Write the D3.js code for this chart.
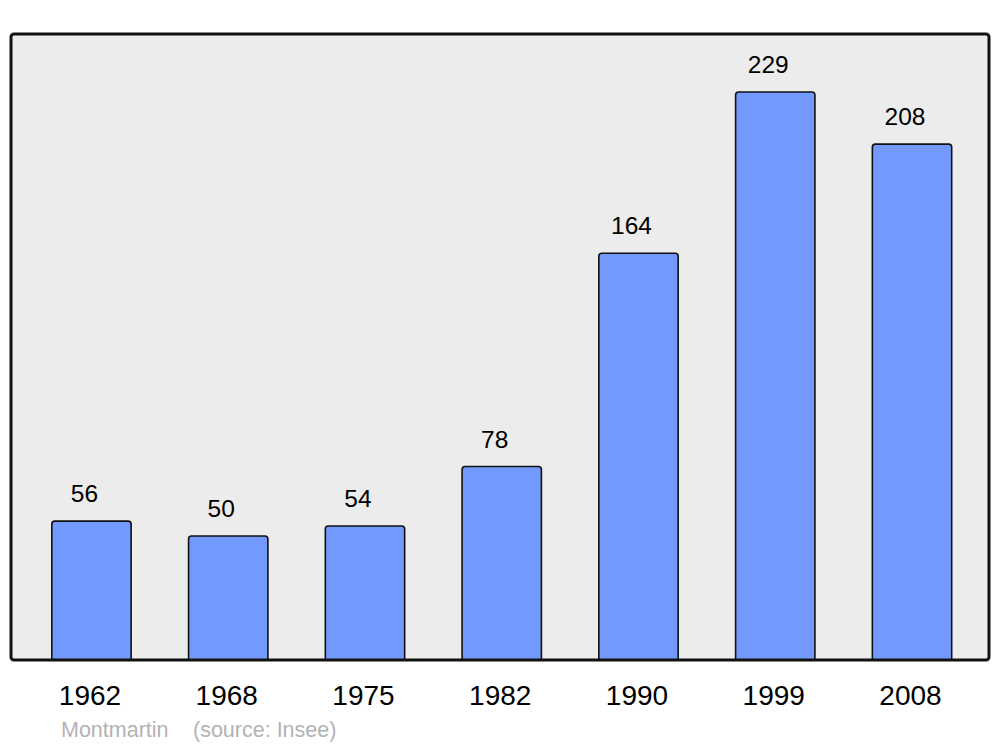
<!DOCTYPE html>
<html>
<head>
<meta charset="utf-8">
<script src="https://cdn.jsdelivr.net/npm/d3@7"></script>
<style>
  body { margin: 0; background: #fff; }
  text { font-family: "Liberation Sans", Arial, sans-serif; }
</style>
</head>
<body>
<svg id="chart" width="1000" height="747"></svg>
<script>
// population by census year
const years = ["1962", "1968", "1975", "1982", "1990", "1999", "2008"];
const population = [56, 50, 54, 78, 164, 229, 208];
const commune = "Montmartin";
const source = "(source: Insee)";

const svg = d3.select("#chart");
const panel = { left: 11, right: 989, top: 34, bottom: 660 };

const x = d3.scaleBand()
  .domain(years)
  .range([23.1, 980.4])
  .paddingInner(0.42)
  .paddingOuter(0.21);

const y = d3.scaleLinear()
  .domain([0, 252.4])
  .range([panel.bottom, panel.top]);

// grey background panel
svg.append("rect")
  .attr("x", panel.left)
  .attr("y", panel.top)
  .attr("width", panel.right - panel.left)
  .attr("height", panel.bottom - panel.top)
  .attr("rx", 3)
  .attr("fill", "#ececec");

const data = years.map((yr, i) => ({ year: yr, value: population[i] }));

// bars: rounded at the top only
const r = 3;
svg.selectAll("path.bar")
  .data(data)
  .enter()
  .append("path")
  .attr("class", "bar")
  .attr("d", d => {
    const x0 = x(d.year), x1 = x0 + x.bandwidth();
    const y0 = y(d.value), yb = y(0);
    return `M${x0},${yb} L${x0},${y0 + r} Q${x0},${y0} ${x0 + r},${y0} L${x1 - r},${y0} Q${x1},${y0} ${x1},${y0 + r} L${x1},${yb}`;
  })
  .attr("fill", "#7399ff")
  .attr("stroke", "#111")
  .attr("stroke-width", 1.6);

// value labels
svg.selectAll("text.val")
  .data(data)
  .enter()
  .append("text")
  .attr("class", "val")
  .attr("x", d => x(d.year) + x.bandwidth() / 2 - 7)
  .attr("y", d => y(d.value) - 19)
  .attr("text-anchor", "middle")
  .attr("font-size", 24.5)
  .attr("fill", "#000")
  .text(d => d.value);

// panel border on top
svg.append("rect")
  .attr("x", panel.left)
  .attr("y", panel.top)
  .attr("width", panel.right - panel.left)
  .attr("height", panel.bottom - panel.top)
  .attr("rx", 3)
  .attr("fill", "none")
  .attr("stroke", "#111")
  .attr("stroke-width", 3);

// year labels
svg.selectAll("text.year")
  .data(years)
  .enter()
  .append("text")
  .attr("class", "year")
  .attr("x", d => x(d) + x.bandwidth() / 2 - 1.5)
  .attr("y", 705)
  .attr("text-anchor", "middle")
  .attr("font-size", 28)
  .attr("fill", "#000")
  .text(d => d);

// footer
svg.append("text")
  .attr("x", 61)
  .attr("y", 737)
  .attr("font-size", 21.5)
  .attr("fill", "#b3b3b3")
  .text(commune);
svg.append("text")
  .attr("x", 193)
  .attr("y", 737)
  .attr("font-size", 21.5)
  .attr("fill", "#b3b3b3")
  .text(source);
</script>
</body>
</html>
